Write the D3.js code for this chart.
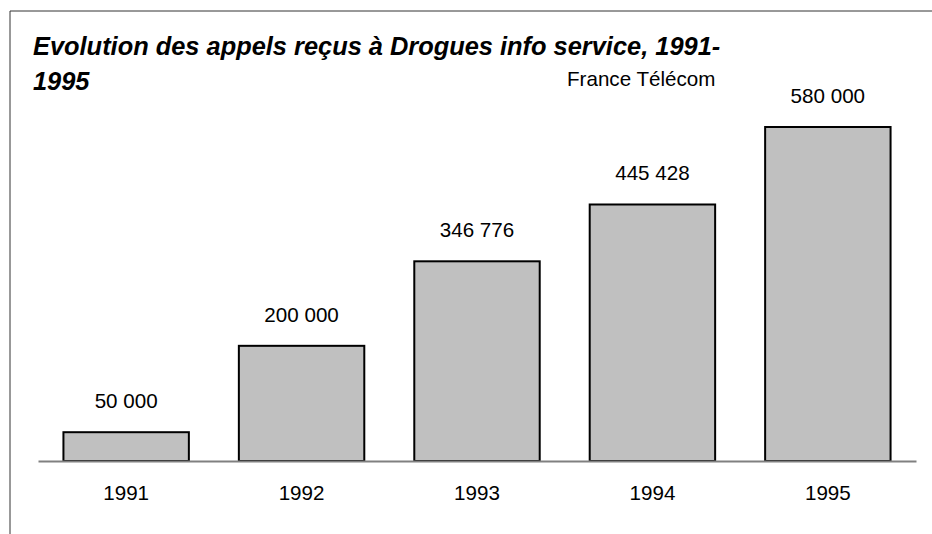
<!doctype html>
<html lang="fr">
  <head>
    <meta charset="UTF-8" />
    <title>Drogues info service</title>
    <script src="https://cdn.jsdelivr.net/npm/d3@7"></script>
    <style>
      body { margin: 0; background: #fff; }
      svg text { font-family: "Liberation Sans", Arial, sans-serif; fill: #000; }
    </style>
  </head>
  <body>
    <div id="chart"></div>
    <script>
      const years = ["1991", "1992", "1993", "1994", "1995"];
      const calls = [50000, 200000, 346776, 445428, 580000];
      const valueLabels = ["50 000", "200 000", "346 776", "445 428", "580 000"];
      const titleLines = ["Evolution des appels reçus à Drogues info service, 1991-", "1995"];
      const source = "France Télécom";

      const width = 932, height = 534;
      const marginLeft = 38, marginRight = 16;
      const baseY = 461, topY = 127;
      const fs = 20.6;

      const svg = d3.select("#chart").append("svg")
        .attr("width", width)
        .attr("height", height);

      // frame (top + left only)
      svg.append("path")
        .attr("d", `M10,${height} V11 H${width}`)
        .attr("fill", "none")
        .attr("stroke", "#333")
        .attr("stroke-width", 1);

      const x = d3.scaleBand()
        .domain(years)
        .range([marginLeft, width - marginRight])
        .paddingInner(0.285)
        .paddingOuter(0.145);

      const y = d3.scaleLinear()
        .domain([0, d3.max(calls)])
        .range([baseY, topY]);

      // bars
      svg.selectAll("rect.bar")
        .data(calls)
        .join("rect")
        .attr("class", "bar")
        .attr("x", (d, i) => x(years[i]))
        .attr("y", d => y(d))
        .attr("width", x.bandwidth())
        .attr("height", d => y(0) - y(d))
        .attr("fill", "#c0c0c0")
        .attr("stroke", "#000")
        .attr("stroke-width", 2);

      // baseline
      const xAxis = svg.append("g")
        .attr("transform", `translate(0,${baseY})`)
        .call(d3.axisBottom(x).tickSize(0).tickPadding(24).tickSizeOuter(0));
      xAxis.select(".domain").attr("stroke", "#808080").attr("stroke-width", 2);
      xAxis.selectAll("text")
        .attr("font-size", fs)
        .attr("font-family", "Liberation Sans, Arial, sans-serif")
        .attr("fill", "#000");

      // value labels
      svg.selectAll("text.val")
        .data(calls)
        .join("text")
        .attr("class", "val")
        .attr("x", (d, i) => x(years[i]) + x.bandwidth() / 2)
        .attr("y", d => y(d) - 24)
        .attr("text-anchor", "middle")
        .attr("font-size", fs)
        .text((d, i) => valueLabels[i]);

      // title
      svg.append("text")
        .attr("x", 33)
        .attr("y", 55)
        .attr("font-size", 25.4)
        .attr("font-weight", "bold")
        .attr("font-style", "italic")
        .selectAll("tspan")
        .data(titleLines)
        .join("tspan")
        .attr("x", 33)
        .attr("dy", (d, i) => i ? 35 : 0)
        .text(d => d);

      svg.append("text")
        .attr("x", 567)
        .attr("y", 86)
        .attr("font-size", fs)
        .text(source);
    </script>
  </body>
</html>
